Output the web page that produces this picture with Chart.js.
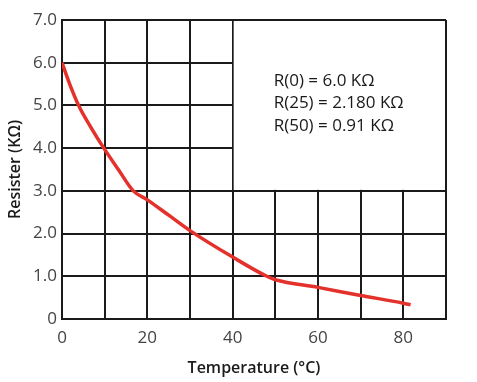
<!DOCTYPE html>
<html>
<head>
<meta charset="utf-8">
<script src="https://cdn.jsdelivr.net/npm/chart.js@4/dist/chart.umd.min.js"></script>
<style>
  html, body { margin: 0; padding: 0; background: #fff; }
  #wrap { width: 477px; height: 382px; }
</style>
</head>
<body>
<div id="wrap"><canvas id="chart" width="477" height="382"></canvas></div>
<script>
// values
const temps = [0, 1.8, 3.9, 6.7, 9.8, 13.2, 16.7, 20, 25, 30, 40, 48, 50, 60, 70, 80, 81.7];
const resist = [6.0, 5.5, 5.0, 4.5, 4.0, 3.5, 3.0, 2.79, 2.43, 2.07, 1.45, 1.0, 0.92, 0.74, 0.55, 0.37, 0.33];

const xTickLabels = [0, 20, 40, 60, 80];
const yTickLabels = ['0', '1.0', '2.0', '3.0', '4.0', '5.0', '6.0', '7.0'];
const noteLines = ['R(0) = 6.0 KΩ', 'R(25) = 2.180 KΩ', 'R(50) = 0.91 KΩ'];
// blank region holding the notes (data units)
const noteBox = { xMin: 40, xMax: 90, yMin: 3, yMax: 7 };

const FONT = "'Open Sans', sans-serif";

const points = temps.map((t, i) => ({ x: t, y: resist[i] }));

const noteBoxPlugin = {
  id: 'noteBox',
  beforeDatasetsDraw(chart) {
    const { ctx, scales: { x, y } } = chart;
    const left = x.getPixelForValue(noteBox.xMin) + 1;
    const right = x.getPixelForValue(noteBox.xMax) - 1;
    const top = y.getPixelForValue(noteBox.yMax) + 1;
    const bottom = y.getPixelForValue(noteBox.yMin) - 1;
    ctx.save();
    ctx.fillStyle = '#fff';
    ctx.fillRect(left, top, right - left, bottom - top);
    ctx.fillStyle = '#1a1a1a';
    ctx.font = '17px ' + FONT;
    ctx.textBaseline = 'middle';
    ctx.textAlign = 'left';
    noteLines.forEach((line, i) => {
      ctx.fillText(line, left + 40, top + 60 + i * 22.5);
    });
    ctx.restore();
  }
};

const yTitlePlugin = {
  id: 'yTitle',
  afterDraw(chart) {
    const { ctx, chartArea } = chart;
    ctx.save();
    ctx.translate(15, (chartArea.top + chartArea.bottom) / 2);
    ctx.rotate(-Math.PI / 2);
    ctx.fillStyle = '#1a1a1a';
    ctx.font = '600 16px ' + FONT;
    ctx.textAlign = 'center';
    ctx.textBaseline = 'middle';
    ctx.fillText('Resister (KΩ)', 0, 0);
    ctx.restore();
  }
};

new Chart(document.getElementById('chart'), {
  type: 'scatter',
  data: {
    datasets: [{
      data: points,
      showLine: true,
      borderColor: '#e4312b',
      borderWidth: 3.5,
      pointRadius: 0,
      cubicInterpolationMode: 'monotone',
      fill: false
    }]
  },
  options: {
    responsive: false,
    animation: false,
    layout: { padding: { top: 20, right: 31, left: 0, bottom: 0 } },
    plugins: {
      legend: { display: false },
      tooltip: { enabled: false }
    },
    scales: {
      x: {
        type: 'linear',
        min: 0,
        max: 90,
        afterFit(scale) { scale.height = 63; },
        grid: { color: '#1a1a1a', lineWidth: 2, drawTicks: false },
        border: { color: '#1a1a1a', width: 2 },
        ticks: {
          stepSize: 10,
          padding: 9,
          color: '#444',
          font: { family: FONT, size: 17 },
          callback: v => xTickLabels.includes(v) ? String(v) : ''
        },
        title: {
          display: true,
          text: 'Temperature (°C)',
          color: '#1a1a1a',
          font: { family: FONT, size: 16, weight: '600' },
          padding: { top: 0 }
        }
      },
      y: {
        min: 0,
        max: 7,
        afterFit(scale) { scale.width = 62; },
        grid: { color: '#1a1a1a', lineWidth: 2, drawTicks: false },
        border: { color: '#1a1a1a', width: 2 },
        ticks: {
          stepSize: 1,
          padding: 5,
          color: '#444',
          font: { family: FONT, size: 17 },
          callback: v => yTickLabels[v]
        }
      }
    }
  },
  plugins: [noteBoxPlugin, yTitlePlugin]
});
</script>
</body>
</html>
